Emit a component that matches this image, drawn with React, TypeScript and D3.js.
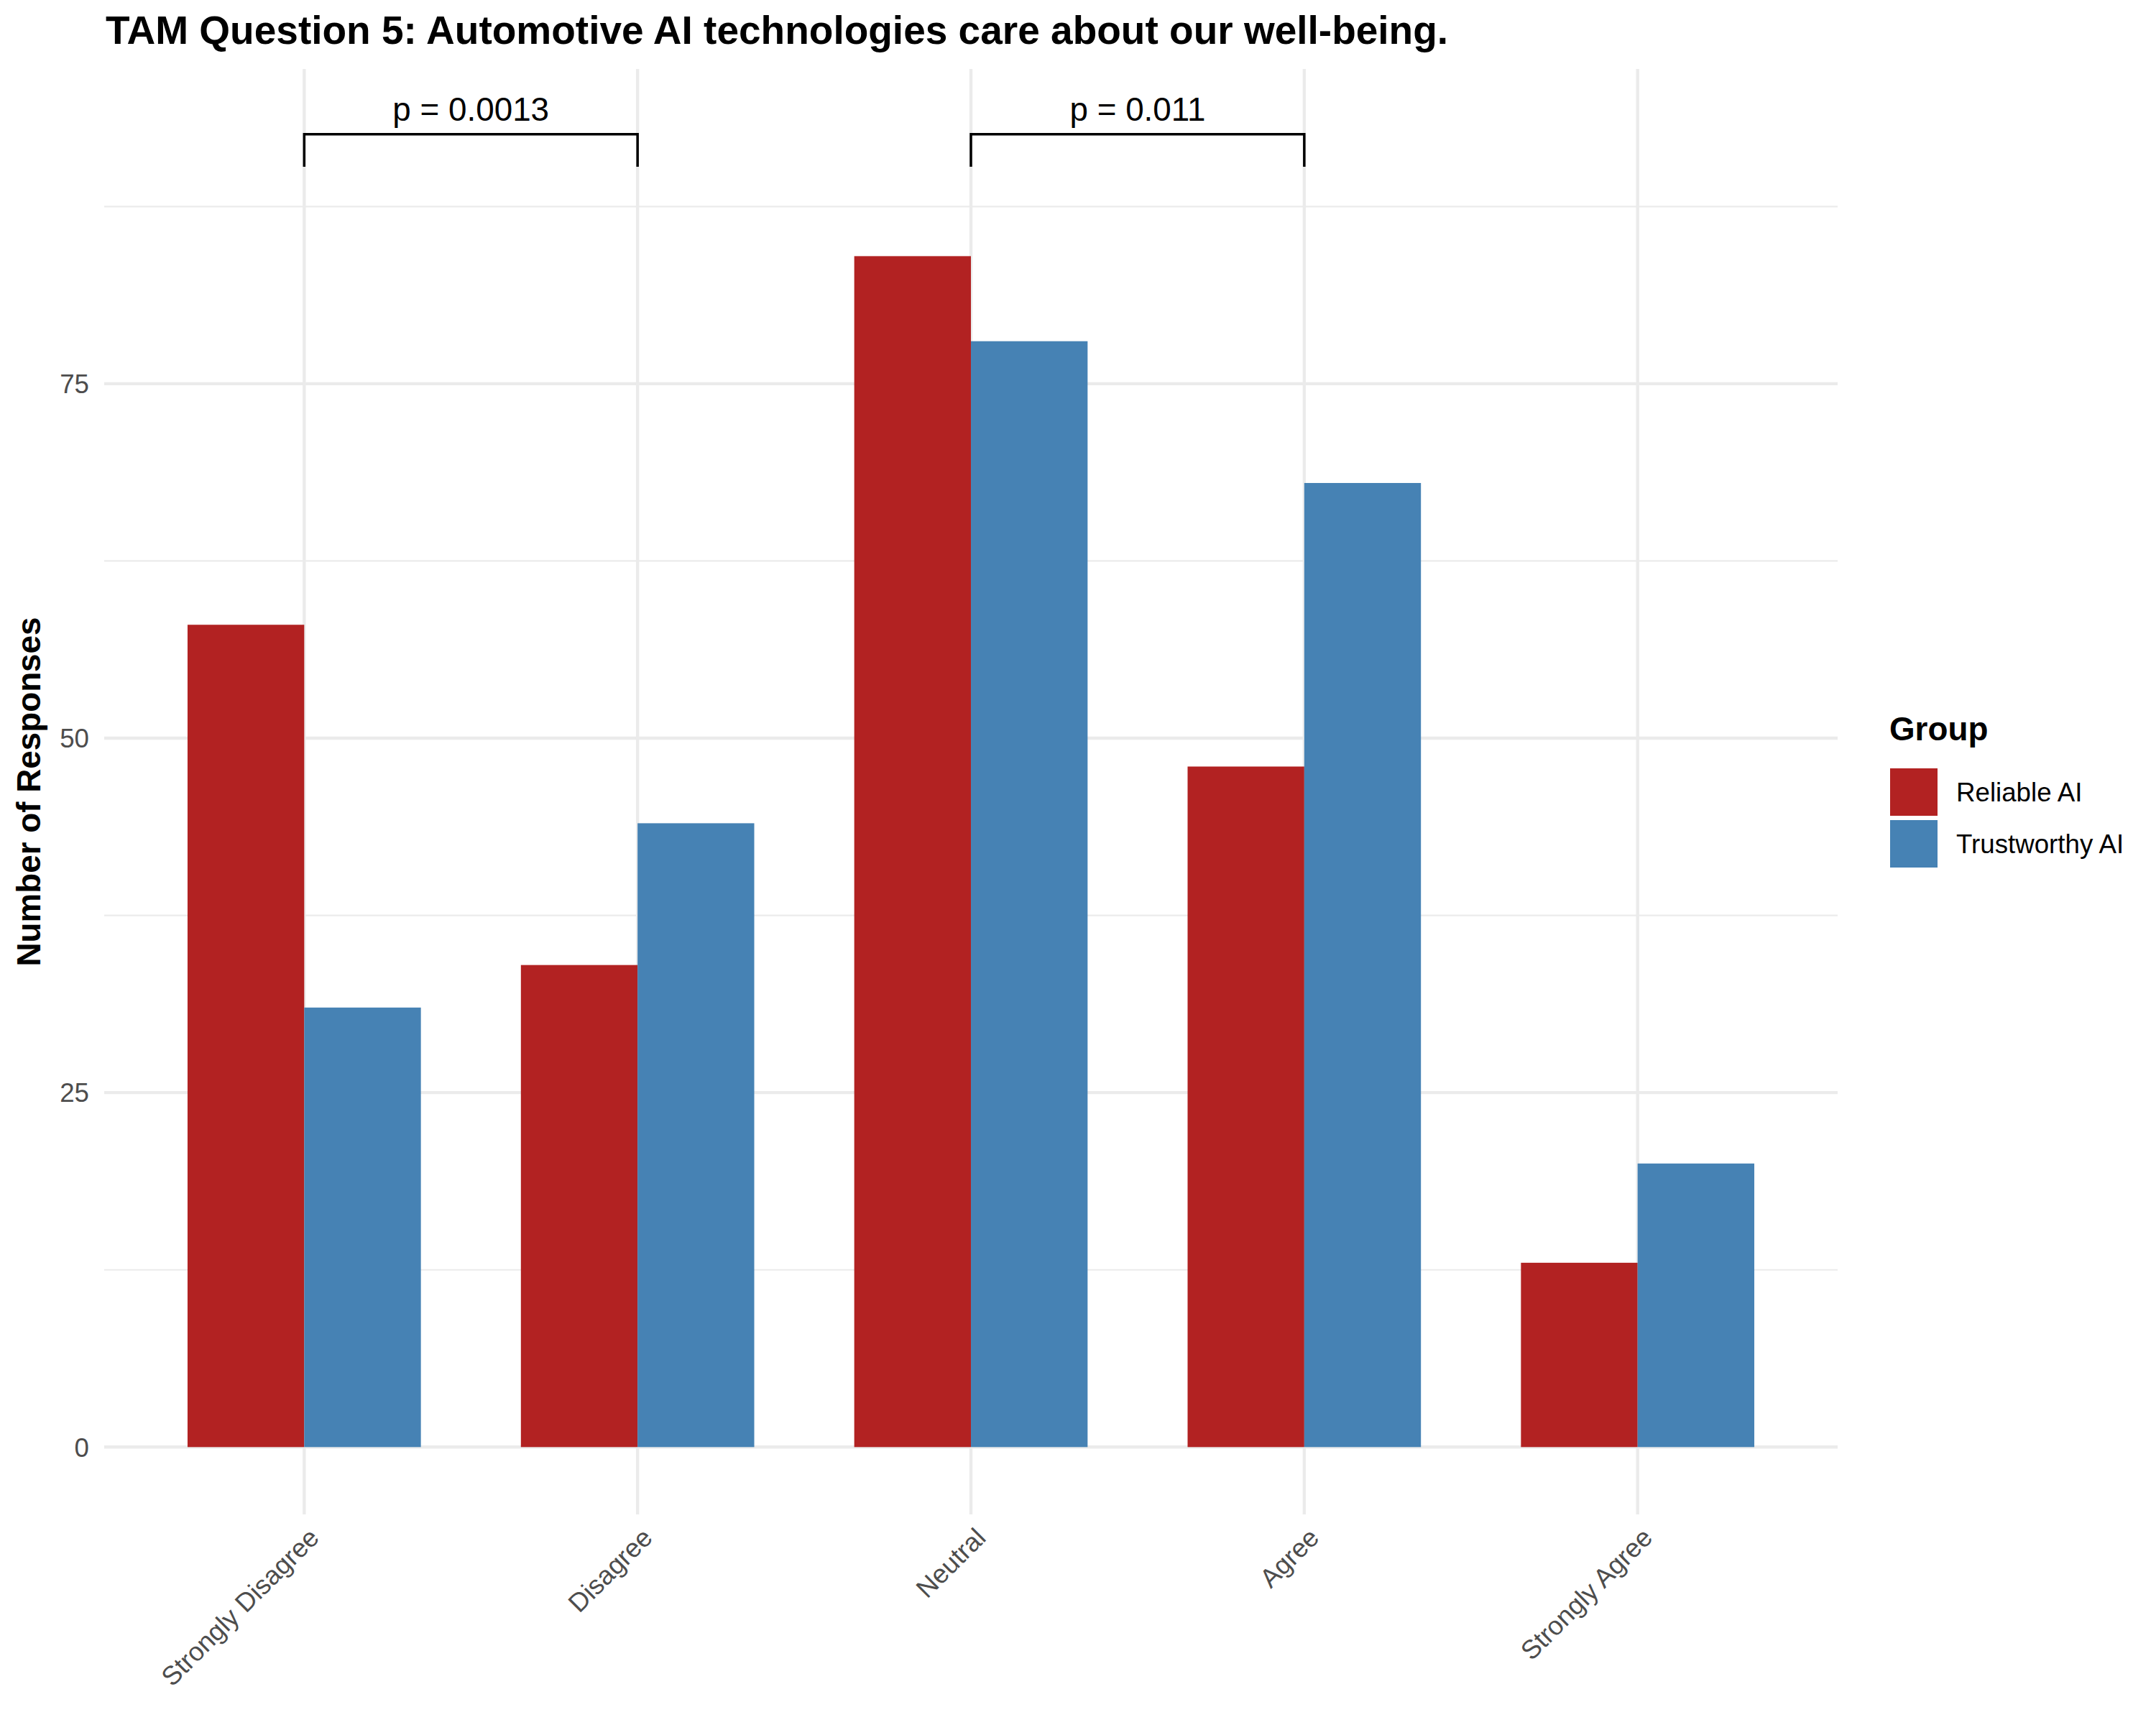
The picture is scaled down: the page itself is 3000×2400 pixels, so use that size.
import React, { useEffect, useRef } from 'react';
import * as d3 from 'd3';

const categories = ['Strongly Disagree', 'Disagree', 'Neutral', 'Agree', 'Strongly Agree'];
const groups = ['Reliable AI', 'Trustworthy AI'];
const reliableValues = [58, 34, 84, 48, 13];
const trustworthyValues = [31, 44, 78, 68, 20];
const colors = ['#B22222', '#4682B4'];
const yTicks = [0, 25, 50, 75];
const yMinorTicks = [12.5, 37.5, 62.5, 87.5];
const comparisons = [
  { from: 'Strongly Disagree', to: 'Disagree', label: 'p = 0.0013' },
  { from: 'Neutral', to: 'Agree', label: 'p = 0.011' },
];
const bracketTop = 92.6;
const bracketBottom = 90.3;

const W = 3000;
const H = 2400;
const FONT = '"Liberation Sans", Arial, Helvetica, sans-serif';

export default function App() {
  const svgRef = useRef<SVGSVGElement>(null);

  useEffect(() => {
    if (!svgRef.current) return;
    document.body.style.margin = '0';
    const svg = d3.select(svgRef.current);
    svg.selectAll('*').remove();

    const panel = { left: 145, right: 2557, top: 96, bottom: 2107 };

    const x0 = d3.scaleBand()
      .domain(categories)
      .range([panel.left, panel.right])
      .paddingInner(0.3)
      .paddingOuter(0.25);
    const x1 = d3.scaleBand().domain(groups).range([0, x0.bandwidth()]);
    const center = (c: string) => x0(c)! + x0.bandwidth() / 2;

    const y = d3.scaleLinear().domain([-4.75, 97.2]).range([panel.bottom, panel.top]);

    svg.append('rect').attr('width', W).attr('height', H).attr('fill', 'white');

    // Grid
    const grid = svg.append('g');
    grid.selectAll('.minor')
      .data(yMinorTicks)
      .enter()
      .append('line')
      .attr('x1', panel.left).attr('x2', panel.right)
      .attr('y1', (d) => y(d)).attr('y2', (d) => y(d))
      .attr('stroke', '#ebebeb').attr('stroke-width', 2.2);
    grid.selectAll('.major')
      .data(yTicks)
      .enter()
      .append('line')
      .attr('x1', panel.left).attr('x2', panel.right)
      .attr('y1', (d) => y(d)).attr('y2', (d) => y(d))
      .attr('stroke', '#ebebeb').attr('stroke-width', 4.4);
    grid.selectAll('.vmajor')
      .data(categories)
      .enter()
      .append('line')
      .attr('x1', (d) => center(d)).attr('x2', (d) => center(d))
      .attr('y1', panel.top).attr('y2', panel.bottom)
      .attr('stroke', '#ebebeb').attr('stroke-width', 4.4);

    // Bars
    const series = [reliableValues, trustworthyValues];
    series.forEach((vals, gi) => {
      svg.append('g')
        .selectAll('rect')
        .data(categories.map((c, i) => ({ c, v: vals[i] })))
        .enter()
        .append('rect')
        .attr('x', (d) => x0(d.c)! + x1(groups[gi])!)
        .attr('width', x1.bandwidth())
        .attr('y', (d) => y(d.v))
        .attr('height', (d) => y(0) - y(d.v))
        .attr('fill', colors[gi]);
    });

    // Y axis labels
    svg.append('g')
      .selectAll('text')
      .data(yTicks)
      .enter()
      .append('text')
      .attr('x', panel.left - 21)
      .attr('y', (d) => y(d))
      .attr('dy', '0.36em')
      .attr('text-anchor', 'end')
      .attr('font-family', FONT)
      .attr('font-size', 36.7)
      .attr('fill', '#4d4d4d')
      .text((d) => d);

    // X axis labels
    svg.append('g')
      .selectAll('text')
      .data(categories)
      .enter()
      .append('text')
      .attr('transform', (d) => `translate(${center(d) + 4},${panel.bottom + 16}) rotate(-45)`)
      .attr('text-anchor', 'end')
      .attr('dy', '0.72em')
      .attr('font-family', FONT)
      .attr('font-size', 36.7)
      .attr('fill', '#4d4d4d')
      .text((d) => d);

    // Significance brackets
    comparisons.forEach((cmp) => {
      const xa = center(cmp.from);
      const xb = center(cmp.to);
      svg.append('path')
        .attr('d', `M${xa},${y(bracketBottom)}V${y(bracketTop)}H${xb}V${y(bracketBottom)}`)
        .attr('fill', 'none')
        .attr('stroke', 'black')
        .attr('stroke-width', 3.5);
      svg.append('text')
        .attr('x', (xa + xb) / 2)
        .attr('y', y(bracketTop) - 19)
        .attr('text-anchor', 'middle')
        .attr('font-family', FONT)
        .attr('font-size', 45.8)
        .attr('fill', 'black')
        .text(cmp.label);
    });

    // Axis title
    svg.append('text')
      .attr('transform', `translate(56,${(panel.top + panel.bottom) / 2}) rotate(-90)`)
      .attr('text-anchor', 'middle')
      .attr('font-family', FONT)
      .attr('font-size', 45.8)
      .attr('font-weight', 'bold')
      .attr('fill', 'black')
      .text('Number of Responses');

    // Title
    svg.append('text')
      .attr('x', 147)
      .attr('y', 61)
      .attr('font-family', FONT)
      .attr('font-size', 55)
      .attr('font-weight', 'bold')
      .attr('fill', 'black')
      .text('TAM Question 5: Automotive AI technologies care about our well-being.');

    // Legend
    const legend = svg.append('g');
    legend.append('text')
      .attr('x', 2629)
      .attr('y', 1030)
      .attr('font-family', FONT)
      .attr('font-size', 45.8)
      .attr('font-weight', 'bold')
      .attr('fill', 'black')
      .text('Group');
    groups.forEach((g, i) => {
      const top = 1069 + i * 72;
      legend.append('rect')
        .attr('x', 2630).attr('y', top)
        .attr('width', 66).attr('height', 66)
        .attr('fill', colors[i]);
      legend.append('text')
        .attr('x', 2722)
        .attr('y', top + 33)
        .attr('dy', '0.36em')
        .attr('font-family', FONT)
        .attr('font-size', 36.7)
        .attr('fill', 'black')
        .text(g);
    });
  }, []);

  return (
    <div>
      <svg ref={svgRef} width={W} height={H} style={{ display: 'block' }}></svg>
    </div>
  );
}
